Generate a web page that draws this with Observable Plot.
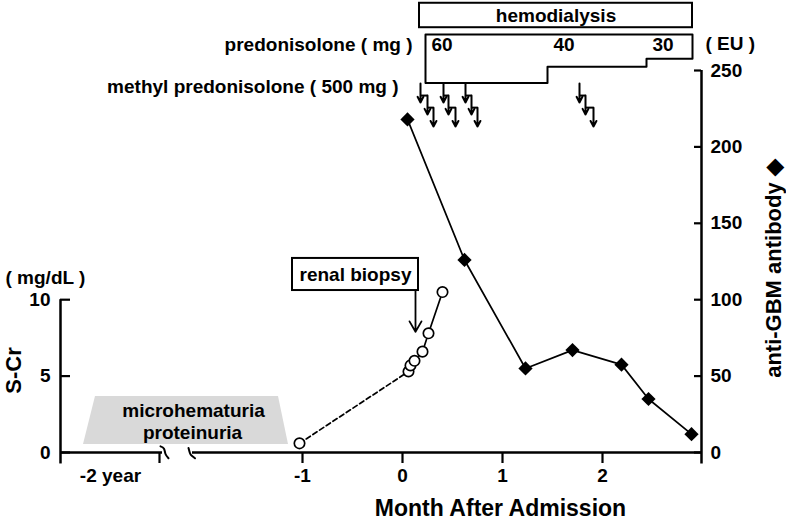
<!DOCTYPE html>
<html>
<head>
<meta charset="utf-8">
<script src="https://cdn.jsdelivr.net/npm/d3@7"></script>
<script src="https://cdn.jsdelivr.net/npm/@observablehq/plot@0.6"></script>
<style>
  html, body { margin: 0; padding: 0; background: white; }
</style>
</head>
<body>
<div id="chart"></div>
<script>
// ---- data ----
const xTicks = [-1, 0, 1, 2];
const xTickLabels = ["-1", "0", "1", "2"];
const crTicks = [0, 5, 10];            // S-Cr (mg/dL)
const gbmTicks = [0, 50, 100, 150, 200, 250]; // anti-GBM (EU)

const scrMonth = [-1.03, 0.06, 0.08, 0.12, 0.20, 0.26, 0.40];
const scrValue = [0.6, 5.3, 5.7, 6.0, 6.6, 7.8, 10.5];

const gbmMonth = [0.05, 0.62, 1.23, 1.70, 2.19, 2.46, 2.89];
const gbmValue = [218, 126, 55, 67, 57.5, 35, 12];

const mpMonth = [0.18, 0.25, 0.31, 0.41, 0.46, 0.53, 0.63, 0.69, 0.75, 1.77, 1.83, 1.91];

const pslDose = [60, 40, 30];
const pslStart = [0.23, 1.45, 2.44];
const pslEnd = 2.90;

const hdStart = 0.17, hdEnd = 2.90;
const biopsyMonth = 0.13;

// ---- layout helpers (data space) ----
const crToEU = 10;          // 10 mg/dL aligns with 100 EU
const xMin = -3.42, xMax = 2.99;
const F = "'Liberation Sans', Arial, Helvetica, sans-serif";

const scr = scrMonth.map((m, i) => ({m, v: scrValue[i] * crToEU}));
const gbm = gbmMonth.map((m, i) => ({m, v: gbmValue[i]}));

// methyl prednisolone staggered arrows
const arrowTop0 = 241.5, arrowStep = 7.9, arrowLen = 12.4;
const mp = mpMonth.map((m, i) => {
  const j = i % 3;
  const top = arrowTop0 - arrowStep * j;
  return {m, j, top, bottom: top - arrowLen, prev: j > 0 ? mpMonth[i - 1] : null};
});
const mpStubs = mp.filter(d => d.j > 0);

// prednisolone stepped box
const pslTop = 273.6, pslK = 0.53;
const pslPts = [[pslStart[0], pslTop], [pslEnd, pslTop]];
for (let i = pslDose.length - 1; i >= 0; i--) {
  const segEnd = i === pslDose.length - 1 ? pslEnd : pslStart[i + 1];
  const b = pslTop - pslK * pslDose[i];
  pslPts.push([segEnd, b], [pslStart[i], b]);
}
pslPts.push([pslStart[0], pslTop]);

const trap = [
  {x: -3.19, y1: 5.2, y2: 5.2},
  {x: -3.07, y1: 5.2, y2: 36.6},
  {x: -1.24, y1: 5.2, y2: 36.6},
  {x: -1.14, y1: 5.2, y2: 5.2}
];

const T = (x, y, t) => [{x, y, t}];

const chart = Plot.plot({
  width: 786,
  height: 523,
  marginLeft: 60,
  marginRight: 85,
  marginTop: 70,
  marginBottom: 71,
  x: {domain: [xMin, xMax], axis: null},
  y: {domain: [0, 250], axis: null},
  style: {fontFamily: F, fontWeight: "bold", background: "white", overflow: "visible"},
  marks: [
    // gray trapezoid
    Plot.areaY(trap, {x: "x", y1: "y1", y2: "y2", fill: "#d9d9d9"}),
    Plot.text(T(-2.09, 27.4, "microhematuria"), {x: "x", y: "y", text: "t", fontSize: 19, fill: "black"}),
    Plot.text(T(-2.10, 13.0, "proteinuria"), {x: "x", y: "y", text: "t", fontSize: 19, fill: "black"}),

    // axes lines
    Plot.ruleX([xMin], {y1: -7.5, y2: 100, stroke: "black", strokeWidth: 2.5}),
    Plot.ruleX([xMax], {y1: -7.5, y2: 250, stroke: "black", strokeWidth: 2.5}),
    Plot.ruleY([0], {x1: xMin, x2: -2.40, stroke: "black", strokeWidth: 2.5}),
    Plot.ruleY([0], {x1: -2.10, x2: xMax, stroke: "black", strokeWidth: 2.5}),
    // axis break marks
    Plot.line([[-2.42, 4], [-2.385, 2.5], [-2.37, -1], [-2.34, -3.8]], {x: d => d[0], y: d => d[1], curve: "natural", stroke: "black", strokeWidth: 2}),
    Plot.line([[-2.14, 3], [-2.125, -0.5], [-2.11, -2], [-2.075, -3.8]], {x: d => d[0], y: d => d[1], curve: "natural", stroke: "black", strokeWidth: 2}),

    // x ticks
    Plot.ruleX(xTicks, {y1: 0, y2: -7.2, stroke: "black", strokeWidth: 2.2}),
    Plot.ruleX([-2.43], {y1: 0, y2: -7.2, stroke: "black", strokeWidth: 2.2}),
    Plot.text(xTicks, {x: d => d, y: -15, text: (d, i) => xTickLabels[i], fontSize: 19}),
    Plot.text(T(-2.92, -15, "-2 year"), {x: "x", y: "y", text: "t", fontSize: 19}),
    Plot.text(T(0.98, -36.6, "Month After Admission"), {x: "x", y: "y", text: "t", fontSize: 23}),

    // left axis ticks
    Plot.ruleY(crTicks.map(d => d * crToEU), {x1: xMin, x2: xMin + 0.1, stroke: "black", strokeWidth: 2.2}),
    Plot.text(crTicks, {x: xMin, y: d => d * crToEU, text: d => String(d), dx: -10, textAnchor: "end", fontSize: 19}),
    Plot.text(T(-3.97, 114.5, "( mg/dL )"), {x: "x", y: "y", text: "t", textAnchor: "start", fontSize: 19}),
    Plot.text(T(-3.89, 53.7, "S-Cr"), {x: "x", y: "y", text: "t", rotate: -90, fontSize: 22}),

    // right axis ticks
    Plot.ruleY(gbmTicks, {x1: xMax - 0.07, x2: xMax, stroke: "black", strokeWidth: 2.2}),
    Plot.text(gbmTicks, {x: xMax, y: d => d, text: d => String(d), dx: 9, textAnchor: "start", fontSize: 19}),
    Plot.text(T(xMax, 267.7, "( EU )"), {x: "x", y: "y", text: "t", dx: 4, textAnchor: "start", fontSize: 19}),
    Plot.text(T(3.715, 120.4, "anti-GBM antibody \u25C6"), {x: "x", y: "y", text: "t", rotate: -90, fontSize: 22}),

    // hemodialysis box
    Plot.rect(T(0, 0, "hemodialysis"), {x1: hdStart, x2: hdEnd, y1: 278, y2: 294, stroke: "black", strokeWidth: 2, fill: "white"}),
    Plot.text(T((hdStart + hdEnd) / 2, 286, "hemodialysis"), {x: "x", y: "y", text: "t", fontSize: 19}),

    // prednisolone stepped box
    Plot.line(pslPts, {x: d => d[0], y: d => d[1], stroke: "black", strokeWidth: 2}),
    Plot.text(pslDose, {x: (d, i) => pslStart[i], y: 267, text: d => String(d), dx: 6, textAnchor: "start", fontSize: 19}),
    Plot.text(T(0.10, 267, "predonisolone ( mg )"), {x: "x", y: "y", text: "t", textAnchor: "end", fontSize: 19}),

    // methyl prednisolone pulses
    Plot.text(T(-0.04, 239.5, "methyl predonisolone ( 500 mg )"), {x: "x", y: "y", text: "t", textAnchor: "end", fontSize: 19}),
    Plot.link(mpStubs, {x1: "prev", x2: "m", y1: "top", y2: "top", stroke: "black", strokeWidth: 2}),
    Plot.arrow(mp, {x1: "m", x2: "m", y1: "top", y2: "bottom", stroke: "black", strokeWidth: 2, headLength: 9, headAngle: 55}),

    // renal biopsy
    Plot.rect(T(0, 0, "renal biopsy"), {x1: -1.10, x2: 0.16, y1: 106, y2: 127, stroke: "black", strokeWidth: 2, fill: "white"}),
    Plot.text(T(-0.47, 116.5, "renal biopsy"), {x: "x", y: "y", text: "t", fontSize: 19}),
    Plot.arrow(T(biopsyMonth, 0, ""), {x1: "x", x2: "x", y1: 106, y2: 79, stroke: "black", strokeWidth: 1.8, headLength: 10, headAngle: 60}),

    // S-Cr series
    Plot.line(scr.slice(0, 2), {x: "m", y: "v", stroke: "black", strokeWidth: 1.7, strokeDasharray: "5,3"}),
    Plot.line(scr.slice(1), {x: "m", y: "v", stroke: "black", strokeWidth: 1.7}),
    Plot.dot(scr, {x: "m", y: "v", r: 5.2, fill: "white", stroke: "black", strokeWidth: 1.7}),

    // anti-GBM series
    Plot.line(gbm, {x: "m", y: "v", stroke: "black", strokeWidth: 1.7}),
    Plot.dot(gbm, {x: "m", y: "v", r: 6.4, symbol: "diamond2", fill: "black", stroke: "none"})
  ]
});

document.getElementById("chart").appendChild(chart);
</script>
</body>
</html>
